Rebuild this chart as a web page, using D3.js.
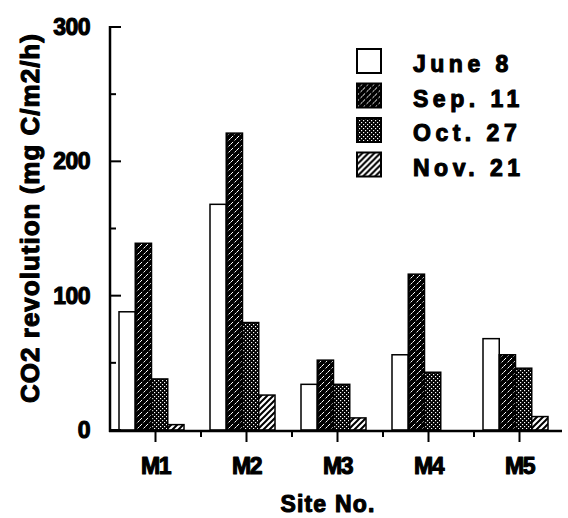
<!DOCTYPE html>
<html>
<head>
<meta charset="utf-8">
<script src="https://cdn.jsdelivr.net/npm/d3@7"></script>
<style>
body { margin: 0; background: #fff; }
text { font-family: "Liberation Sans", Arial, sans-serif; font-weight: bold; fill: #000; stroke: #000; stroke-width: 1.1px; stroke-linejoin: round; }
</style>
</head>
<body>
<div id="vizcontainer"></div>
<script>
var sites = ["M1", "M2", "M3", "M4", "M5"];
var dates = ["June 8", "Sep. 11", "Oct. 27", "Nov. 21"];
var june8 = [88, 168, 34, 56, 68];
var sep11 = [139, 221, 52, 116, 56];
var oct27 = [38, 80, 34, 43, 46];
var nov21 = [4, 26, 9, null, 10];
var yTicks = [0, 100, 200, 300];
var yMinor = [50, 150, 250];

var series = [june8, sep11, oct27, nov21];
var fills = ["#fff", "url(#pSep)", "url(#pOct)", "url(#pNov)"];

var wwidth = 568, hheight = 518;
var svg = d3.select("#vizcontainer").append("svg")
	.attr("width", wwidth)
	.attr("height", hheight);

// patterns
var defs = svg.append("defs");
var pSep = defs.append("pattern").attr("id", "pSep").attr("patternUnits", "userSpaceOnUse")
	.attr("width", 6).attr("height", 6);
pSep.append("rect").attr("width", 6).attr("height", 6).attr("fill", "#000");
pSep.append("path").attr("d", "M0,6 L6,0").attr("stroke", "#fff").attr("stroke-width", 1)
	.attr("stroke-dasharray", "3,2");

var pOct = defs.append("pattern").attr("id", "pOct").attr("patternUnits", "userSpaceOnUse")
	.attr("width", 4).attr("height", 4);
pOct.append("rect").attr("width", 4).attr("height", 4).attr("fill", "#000");
pOct.append("rect").attr("x", 0).attr("y", 0).attr("width", 1.2).attr("height", 1.2).attr("fill", "#fff");
pOct.append("rect").attr("x", 2).attr("y", 2).attr("width", 1.2).attr("height", 1.2).attr("fill", "#fff");

var pNov = defs.append("pattern").attr("id", "pNov").attr("patternUnits", "userSpaceOnUse")
	.attr("width", 6).attr("height", 6);
pNov.append("rect").attr("width", 6).attr("height", 6).attr("fill", "#fff");
pNov.append("path").attr("d", "M-1,7 L7,-1 M-1,1 L1,-1 M5,7 L7,5").attr("stroke", "#000").attr("stroke-width", 2);

// scales
var x0 = d3.scaleBand().domain(sites).range([110, 565]);
var x1 = d3.scaleBand().domain(d3.range(dates.length)).range([9, 74]);
var y = d3.scaleLinear().domain([0, 300]).range([430, 27]);

// bars
var groups = svg.append("g").selectAll("g")
	.data(sites)
	.enter().append("g")
	.attr("transform", function(d) { return "translate(" + x0(d) + ",0)"; });

groups.selectAll("rect")
	.data(function(d, i) {
		return series.map(function(s, k) { return { k: k, v: s[i] }; })
			.filter(function(e) { return e.v != null; });
	})
	.enter().append("rect")
	.attr("x", function(d) { return x1(d.k); })
	.attr("width", x1.bandwidth())
	.attr("y", function(d) { return y(d.v); })
	.attr("height", function(d) { return y(0) - y(d.v); })
	.attr("fill", function(d) { return fills[d.k]; })
	.attr("stroke", "#000")
	.attr("stroke-width", 1.5);

// y axis
var yAxis = svg.append("g").attr("transform", "translate(110,0)");
yAxis.append("line").attr("x1", 0).attr("x2", 0).attr("y1", y(300) - 1).attr("y2", y(0) + 2)
	.attr("stroke", "#000").attr("stroke-width", 2.5);
yAxis.selectAll(".maj").data(yTicks).enter().append("line")
	.attr("x1", 0).attr("x2", 11).attr("y1", y).attr("y2", y)
	.attr("stroke", "#000").attr("stroke-width", 2);
yAxis.selectAll(".min").data(yMinor).enter().append("line")
	.attr("x1", 0).attr("x2", 6).attr("y1", y).attr("y2", y)
	.attr("stroke", "#000").attr("stroke-width", 2);
yAxis.selectAll("text").data(yTicks).enter().append("text")
	.attr("x", -20).attr("y", function(d) { return y(d) + 8; })
	.attr("text-anchor", "end")
	.attr("font-size", "23px")
	.attr("letter-spacing", "-0.5px")
	.text(function(d) { return d; });

// x axis
var xAxis = svg.append("g");
xAxis.append("line").attr("x1", 109).attr("x2", 562).attr("y1", 431).attr("y2", 431)
	.attr("stroke", "#000").attr("stroke-width", 2.5);
xAxis.selectAll(".maj").data(sites).enter().append("line")
	.attr("x1", function(d) { return x0(d) + x0.bandwidth() / 2; })
	.attr("x2", function(d) { return x0(d) + x0.bandwidth() / 2; })
	.attr("y1", 431).attr("y2", 442)
	.attr("stroke", "#000").attr("stroke-width", 2);
xAxis.selectAll(".min").data(sites.slice(1)).enter().append("line")
	.attr("x1", function(d) { return x0(d); })
	.attr("x2", function(d) { return x0(d); })
	.attr("y1", 431).attr("y2", 437)
	.attr("stroke", "#000").attr("stroke-width", 2);
xAxis.selectAll("text").data(sites).enter().append("text")
	.attr("x", function(d) { return x0(d) + x0.bandwidth() / 2; })
	.attr("y", 474)
	.attr("text-anchor", "middle")
	.attr("font-size", "23px")
	.attr("letter-spacing", "-1.5px")
	.text(function(d) { return d; });

// axis titles
svg.append("text")
	.attr("x", 328).attr("y", 512)
	.attr("text-anchor", "middle")
	.attr("font-size", "23px")
	.attr("letter-spacing", "1.2px")
	.text("Site No.");

svg.append("text")
	.attr("transform", "translate(39,218) rotate(-90)")
	.attr("text-anchor", "middle")
	.attr("font-size", "26px")
	.attr("letter-spacing", "1px")
	.text("CO2 revolution (mg C/m2/h)");

// legend
var legend = svg.append("g").selectAll("g")
	.data(dates)
	.enter().append("g")
	.attr("transform", function(d, i) { return "translate(357," + (49 + i * 34.5) + ")"; });
legend.append("rect")
	.attr("width", 24).attr("height", 24)
	.attr("fill", function(d, i) { return fills[i]; })
	.attr("stroke", "#000").attr("stroke-width", 2);
legend.append("text")
	.attr("x", 56).attr("y", 23)
	.attr("font-size", "23px")
	.attr("letter-spacing", "4.5px")
	.text(function(d) { return d; });
</script>
</body>
</html>
